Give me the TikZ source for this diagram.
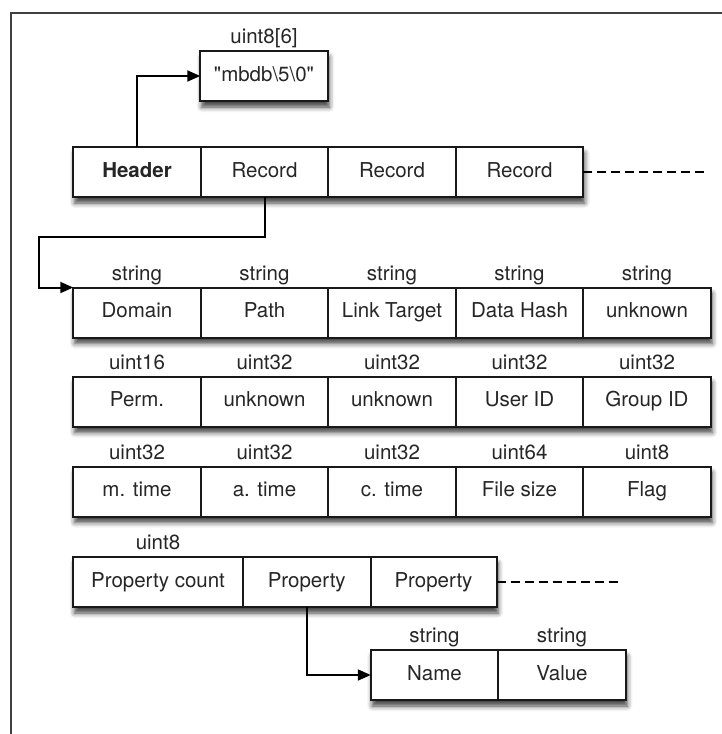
\documentclass[tikz,border=0pt]{standalone}
\usepackage{fontspec}
\setmainfont{TeX Gyre Heros}
\usetikzlibrary{arrows.meta, positioning, fit, backgrounds, shadows.blur}
\tikzset{
  %% Field cell in a record row
  fcell/.style={
    rectangle, draw=black!90, fill=white,
    minimum width=#1, minimum height=50pt,
    inner sep=0pt, outer sep=0pt, line width=2pt,
    text centered, text=black!85,
    text height=14.5pt, text depth=4pt,
    font=\fontsize{20.5}{24}\selectfont
  },
  fcell/.default=127.5pt,
  %% Type name above a cell
  ftype/.style={
    inner sep=1pt, text=black!85,
    text height=14.5pt, text depth=4pt,
    font=\fontsize{20.5}{24}\selectfont
  },
  %% Shadow behind a whole row
  rowshade/.style={
    rectangle, inner sep=0pt, fill=white,
    blur shadow={shadow xshift=1.5pt, shadow yshift=-6pt,
                 shadow blur radius=5pt, shadow opacity=75}
  },
  %% Arrow
  arr/.style={-{Triangle[length=13pt,width=11pt]},
              draw=black, line width=2pt},
  %% Continuation line
  cont/.style={draw=black, line width=2pt,
               dash pattern=on 9pt off 5pt},
}

\begin{document}
\begin{tikzpicture}[x=1pt, y=-1pt, node distance=2pt]

  \useasboundingbox (0,0) rectangle (722,734);
  \draw[black!75, line width=1.5pt] (11,734) -- (11,13) -- (722,13);

  %% magic
  \node[fcell] (magic) at (264,76)
       {\textquotedbl mbdb\textbackslash 5\textbackslash 0\textquotedbl};
  \node[ftype, above=of magic] (tmagic) {uint8[6]};

  %% file header row
  \node[fcell, font=\fontsize{20.5}{24}\selectfont\bfseries]
       (hdr) at (137,172) {Header};
  \node[fcell, right=0pt of hdr] (rec1) {Record};
  \node[fcell, right=0pt of rec1] (rec2) {Record};
  \node[fcell, right=0pt of rec2] (rec3) {Record};
  \coordinate (hdrend) at (707,172);

  %% record: strings
  \node[fcell] (dom) at (137,312.5) {Domain};
  \node[fcell, right=0pt of dom] (path) {Path};
  \node[fcell, right=0pt of path] (link) {Link Target};
  \node[fcell, right=0pt of link] (hash) {Data Hash};
  \node[fcell, right=0pt of hash] (unk1) {unknown};
  \node[ftype, above=of dom] {string};
  \node[ftype, above=of path] {string};
  \node[ftype, above=of link] {string};
  \node[ftype, above=of hash] {string};
  \node[ftype, above=of unk1] {string};

  %% record: ids
  \node[fcell] (perm) at (137,401.5) {Perm.};
  \node[fcell, right=0pt of perm] (unk2) {unknown};
  \node[fcell, right=0pt of unk2] (unk3) {unknown};
  \node[fcell, right=0pt of unk3] (uid) {User ID};
  \node[fcell, right=0pt of uid] (gid) {Group ID};
  \node[ftype, above=of perm] {uint16};
  \node[ftype, above=of unk2] {uint32};
  \node[ftype, above=of unk3] {uint32};
  \node[ftype, above=of uid] {uint32};
  \node[ftype, above=of gid] {uint32};

  %% record: times, size, flag
  \node[fcell] (mtime) at (137,491.5) {m. time};
  \node[fcell, right=0pt of mtime] (atime) {a. time};
  \node[fcell, right=0pt of atime] (ctime) {c. time};
  \node[fcell, right=0pt of ctime] (fsize) {File size};
  \node[fcell, right=0pt of fsize] (flag) {Flag};
  \node[ftype, above=of mtime] {uint32};
  \node[ftype, above=of atime] {uint32};
  \node[ftype, above=of ctime] {uint32};
  \node[ftype, above=of fsize] {uint64};
  \node[ftype, above=of flag] {uint8};

  %% record: properties
  \node[fcell=170pt] (pcount) at (158,582) {Property count};
  \node[fcell, right=0pt of pcount] (prop1) {Property};
  \node[fcell=126pt, right=0pt of prop1] (prop2) {Property};
  \node[ftype, above=of pcount] {uint8};
  \coordinate (propend) at (622,582);

  %% property
  \node[fcell] (pname) at (434.5,675) {Name};
  \node[fcell, right=0pt of pname] (pval) {Value};
  \node[ftype, above=of pname] {string};
  \node[ftype, above=of pval] {string};

  %% row shadows
  \begin{scope}[on background layer]
    \node[rowshade, fit=(magic)] {};
    \node[rowshade, fit=(hdr)(rec3)] {};
    \node[rowshade, fit=(dom)(unk1)] {};
    \node[rowshade, fit=(perm)(gid)] {};
    \node[rowshade, fit=(mtime)(flag)] {};
    \node[rowshade, fit=(pcount)(prop2)] {};
    \node[rowshade, fit=(pname)(pval)] {};
  \end{scope}

  %% connectors
  \coordinate (bend) at (39,237);
  \draw[arr] (hdr.north) |- (magic.west);
  \draw[arr] (rec1.south) |- (bend) |- (dom.north west);
  \draw[arr] (prop1.south) |- (pname.west);
  \draw[cont] (rec3.east) -- (hdrend);
  \draw[cont] (prop2.east) -- (propend);

\end{tikzpicture}
\end{document}
